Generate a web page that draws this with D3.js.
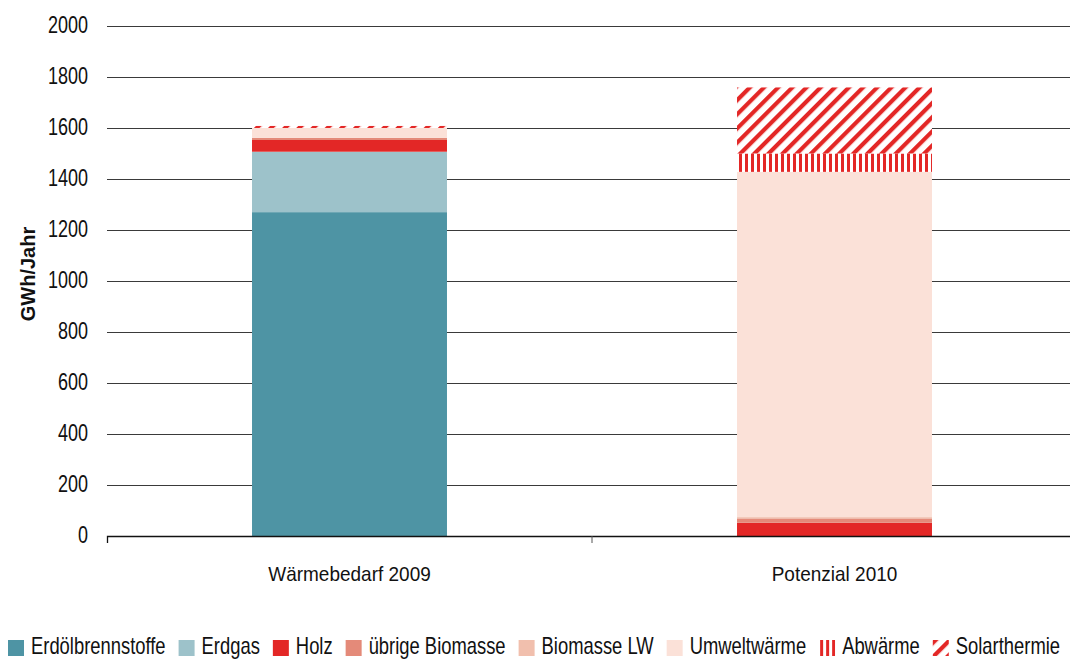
<!DOCTYPE html>
<html>
<head>
<meta charset="utf-8">
<script src="https://cdn.jsdelivr.net/npm/d3@7"></script>
<style>
  html, body { margin: 0; padding: 0; background: #fff; }
  svg { display: block; font-family: "Liberation Sans", Arial, sans-serif; }
</style>
</head>
<body>
<div id="chart"></div>
<script>
// data (GWh/Jahr)
const categories = ["Wärmebedarf 2009", "Potenzial 2010"];
const seriesNames = ["Erdölbrennstoffe", "Erdgas", "Holz", "übrige Biomasse", "Biomasse LW", "Umweltwärme", "Abwärme", "Solarthermie"];
const erdoel = [1270, 0];
const erdgas = [237, 0];
const holz = [46, 52];
const uebrigeBiomasse = [8, 17];
const biomasseLW = [0, 5];
const umweltwaerme = [39, 1354];
const abwaerme = [0, 72];
const solarthermie = [8, 259];
const yTicks = [0, 200, 400, 600, 800, 1000, 1200, 1400, 1600, 1800, 2000];

const W = 1070, H = 659;
const plotLeft = 107, plotRight = 1077, plotTop = 26, plotBottom = 536;

const seriesValues = [erdoel, erdgas, holz, uebrigeBiomasse, biomasseLW, umweltwaerme, abwaerme, solarthermie];
const table = categories.map((c, i) => {
  const row = { category: c };
  seriesNames.forEach((s, j) => row[s] = seriesValues[j][i]);
  return row;
});

const fills = {
  "Erdölbrennstoffe": "#4e94a4",
  "Erdgas": "#9dc2ca",
  "Holz": "#e32726",
  "übrige Biomasse": "#e48a79",
  "Biomasse LW": "#f1bfad",
  "Umweltwärme": "#fbe1d8",
  "Abwärme": "url(#vstripes)",
  "Solarthermie": "url(#dstripes)"
};

const svg = d3.select("#chart").append("svg")
  .attr("width", W)
  .attr("height", H)
  .attr("viewBox", `0 0 ${W} ${H}`);

// stripe patterns
const defs = svg.append("defs");
const vp = defs.append("pattern")
  .attr("id", "vstripes")
  .attr("patternUnits", "userSpaceOnUse")
  .attr("x", 1)
  .attr("width", 6).attr("height", 10);
vp.append("rect").attr("width", 6).attr("height", 10).attr("fill", "#fff");
vp.append("rect").attr("width", 3).attr("height", 10).attr("fill", "#e32726");

const dp = defs.append("pattern")
  .attr("id", "dstripes")
  .attr("patternUnits", "userSpaceOnUse")
  .attr("width", 10).attr("height", 10)
  .attr("patternTransform", "rotate(45)");
dp.append("rect").attr("width", 10).attr("height", 10).attr("fill", "#fff");
dp.append("rect").attr("width", 4.2).attr("height", 10).attr("fill", "#e32726");

const x = d3.scaleBand().domain(categories).range([plotLeft, plotRight]).padding(0);
const y = d3.scaleLinear().domain([0, 2000]).range([plotBottom, plotTop]);
const barW = x.bandwidth() * 0.402;

// gridlines + y labels
const yAxis = svg.append("g")
  .attr("transform", `translate(${plotLeft},0)`)
  .call(d3.axisLeft(y).tickValues(yTicks).tickSize(-(plotRight - plotLeft)).tickFormat(d3.format("d")));
yAxis.select(".domain").remove();
yAxis.selectAll(".tick line").attr("stroke", "#3a3a3a").attr("stroke-width", 1);
yAxis.selectAll(".tick text")
  .attr("x", -25.3)
  .attr("dy", null)
  .attr("y", 6.5)
  .attr("transform", "scale(0.75,1)")
  .attr("text-anchor", "end")
  .style("font-size", "24px")
  .style("font-family", "'Liberation Sans', Arial, sans-serif")
  .attr("fill", "#111");

// stacked bars
const stack = d3.stack().keys(seriesNames)(table);
svg.append("g").selectAll("g")
  .data(stack)
  .join("g")
  .attr("fill", d => fills[d.key])
  .selectAll("rect")
  .data(d => d)
  .join("rect")
  .attr("x", d => x(d.data.category) + (x.bandwidth() - barW) / 2)
  .attr("y", d => y(d[1]))
  .attr("width", barW)
  .attr("height", d => y(d[0]) - y(d[1]));

// x axis
const xAxis = svg.append("g")
  .attr("transform", `translate(0,${plotBottom})`)
  .call(d3.axisBottom(x).tickSizeInner(0).tickSizeOuter(7));
xAxis.select(".domain").attr("stroke", "#111").attr("stroke-width", 1.3);
xAxis.selectAll(".tick line").remove();
xAxis.selectAll(".tick text")
  .attr("y", 45)
  .attr("dy", null)
  .attr("transform", "scale(0.95,1)")
  .style("font-size", "20px")
  .style("font-family", "'Liberation Sans', Arial, sans-serif")
  .attr("fill", "#111");
xAxis.selectAll(".sep")
  .data(categories.slice(1))
  .join("line")
  .attr("class", "sep")
  .attr("x1", d => x(d)).attr("x2", d => x(d))
  .attr("y1", 0).attr("y2", 7)
  .attr("stroke", "#555");

// y title
svg.append("text")
  .attr("transform", "translate(35,274) rotate(-90)")
  .attr("text-anchor", "middle")
  .style("font-size", "20px")
  .style("font-weight", "bold")
  .attr("fill", "#111")
  .text("GWh/Jahr");

// legend
const legend = svg.append("g").attr("transform", "translate(8,640)");
let lx = 0;
seriesNames.forEach(s => {
  const item = legend.append("g").attr("transform", `translate(${lx},0)`);
  item.append("rect")
    .attr("width", 16).attr("height", 16)
    .attr("fill", fills[s]);
  const t = item.append("text")
    .attr("transform", "translate(23,13.5) scale(0.8,1)")
    .style("font-size", "23px")
    .attr("fill", "#111")
    .text(s);
  lx += 23 + t.node().getComputedTextLength() * 0.8 + 13;
});
</script>
</body>
</html>
